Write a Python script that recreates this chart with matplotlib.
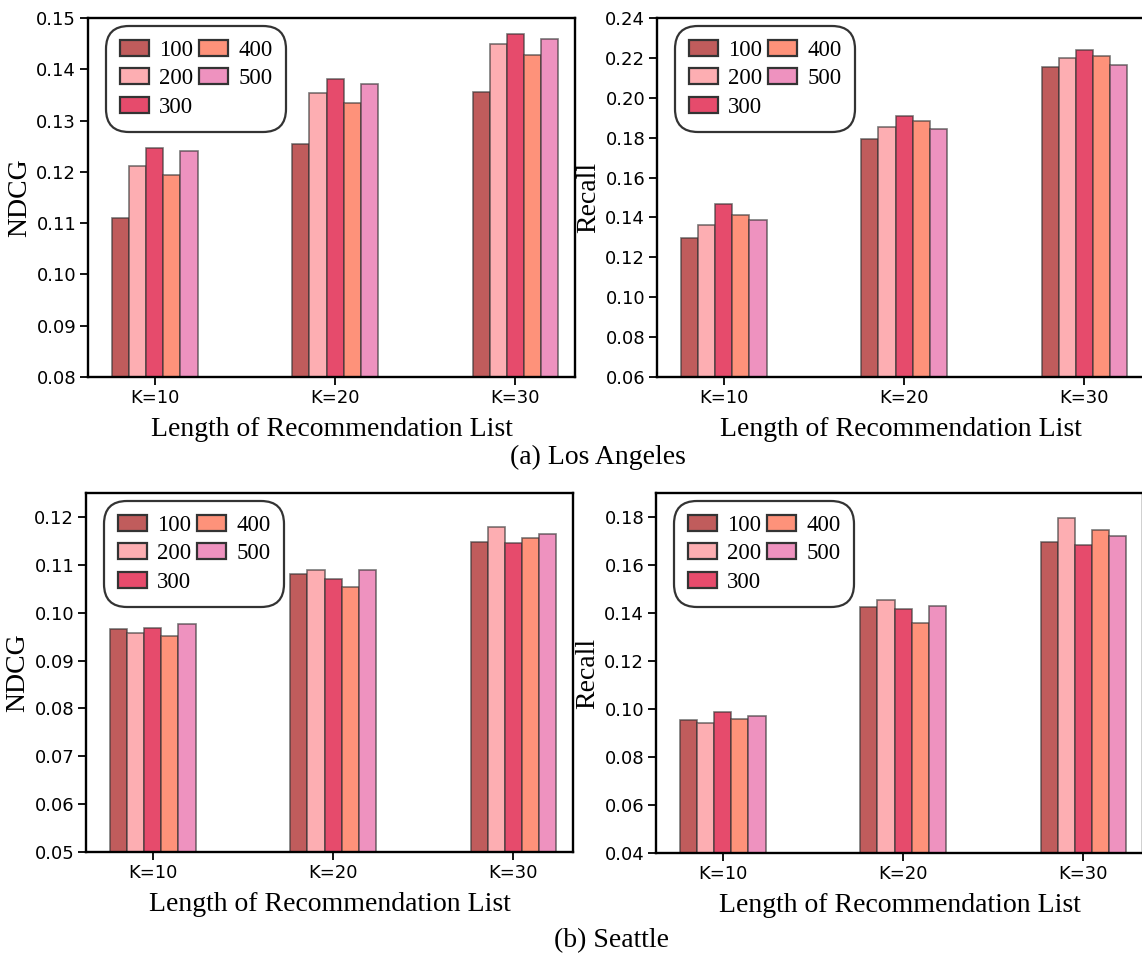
import matplotlib
matplotlib.use("Agg")
import matplotlib.pyplot as plt
import numpy as np

# ---------------- data ----------------
categories = ["K=10", "K=20", "K=30"]
series_labels = ["100", "200", "300", "400", "500"]

la_ndcg = {
    "100": [0.1110, 0.1255, 0.1355],
    "200": [0.1212, 0.1353, 0.1449],
    "300": [0.1247, 0.1381, 0.1469],
    "400": [0.1194, 0.1334, 0.1427],
    "500": [0.1241, 0.1371, 0.1459],
}
la_recall = {
    "100": [0.1296, 0.1792, 0.2156],
    "200": [0.1361, 0.1855, 0.2198],
    "300": [0.1465, 0.1910, 0.2240],
    "400": [0.1410, 0.1883, 0.2208],
    "500": [0.1385, 0.1843, 0.2166],
}
sea_ndcg = {
    "100": [0.0965, 0.1080, 0.1148],
    "200": [0.0958, 0.1090, 0.1178],
    "300": [0.0968, 0.1070, 0.1145],
    "400": [0.0951, 0.1053, 0.1156],
    "500": [0.0977, 0.1089, 0.1164],
}
sea_recall = {
    "100": [0.0955, 0.1423, 0.1697],
    "200": [0.0942, 0.1454, 0.1794],
    "300": [0.0988, 0.1418, 0.1685],
    "400": [0.0958, 0.1358, 0.1744],
    "500": [0.0971, 0.1429, 0.1722],
}

colors = ["#C05C5C", "#FDAEB2", "#E64B6C", "#FE927A", "#EE92BF"]

serif = ["Liberation Serif", "DejaVu Serif"]

W, H = 1142, 957
fig = plt.figure(figsize=(W / 100, H / 100), dpi=100)


def px_axes(left, top, right, bottom):
    return fig.add_axes([left / W, 1 - bottom / H, (right - left) / W, (bottom - top) / H])


def draw(ax, data, ylim, yticks, ylabel):
    x = np.arange(len(categories))
    w = 0.095
    for i, lab in enumerate(series_labels):
        ax.bar(x + (i - 2) * w, data[lab], width=w, color=colors[i],
               edgecolor=(0.2, 0.2, 0.2, 0.65), linewidth=1.2, label=lab)
    ax.set_xlim(-0.37, 2.33)
    ax.set_ylim(*ylim)
    ax.set_yticks(yticks)
    ax.set_yticklabels([f"{t:.2f}" for t in yticks])
    ax.set_xticks(x)
    ax.set_xticklabels(categories)
    ax.tick_params(axis="both", labelsize=13, length=5.5, width=1.3, pad=3)
    for s in ax.spines.values():
        s.set_linewidth(1.7)
        s.set_color("black")
    ax.set_xlabel("Length of Recommendation List", fontsize=20, family=serif, labelpad=7)
    ax.set_ylabel(ylabel, fontsize=20, family=serif, labelpad=3)
    leg = ax.legend(ncol=2, loc="upper left", bbox_to_anchor=(0.037, 0.978),
                    borderaxespad=0, prop={"family": serif, "size": 16.5},
                    handlelength=1.27, handleheight=0.7, handletextpad=0.44,
                    columnspacing=0.26, labelspacing=0.33, borderpad=0.6,
                    frameon=True, fancybox=True, framealpha=1)
    fr = leg.get_frame()
    fr.set_edgecolor("#333333")
    fr.set_linewidth(1.6)
    fr.set_boxstyle("round", pad=0, rounding_size=1.0)
    for h in leg.legend_handles:
        h.set_edgecolor("#333333")
        h.set_linewidth(1.6)


ax1 = px_axes(88, 18, 575, 377)
draw(ax1, la_ndcg, (0.08, 0.15), np.arange(0.08, 0.1501, 0.01), "NDCG")
ax2 = px_axes(657, 18, 1144, 377)
draw(ax2, la_recall, (0.06, 0.24), np.arange(0.06, 0.2401, 0.02), "Recall")
ax3 = px_axes(86, 493, 573, 852)
draw(ax3, sea_ndcg, (0.05, 0.125), np.arange(0.05, 0.1201, 0.01), "NDCG")
ax4 = px_axes(656, 493, 1143, 853)
draw(ax4, sea_recall, (0.04, 0.19), np.arange(0.04, 0.1801, 0.02), "Recall")

fig.text(598 / W, 1 - 457 / H, "(a) Los Angeles", ha="center", va="center",
         fontsize=20, family=serif)
fig.text(611 / W, 1 - 941 / H, "(b) Seattle", ha="center", va="center",
         fontsize=20, family=serif)

fig.savefig("out.png", dpi=100)
